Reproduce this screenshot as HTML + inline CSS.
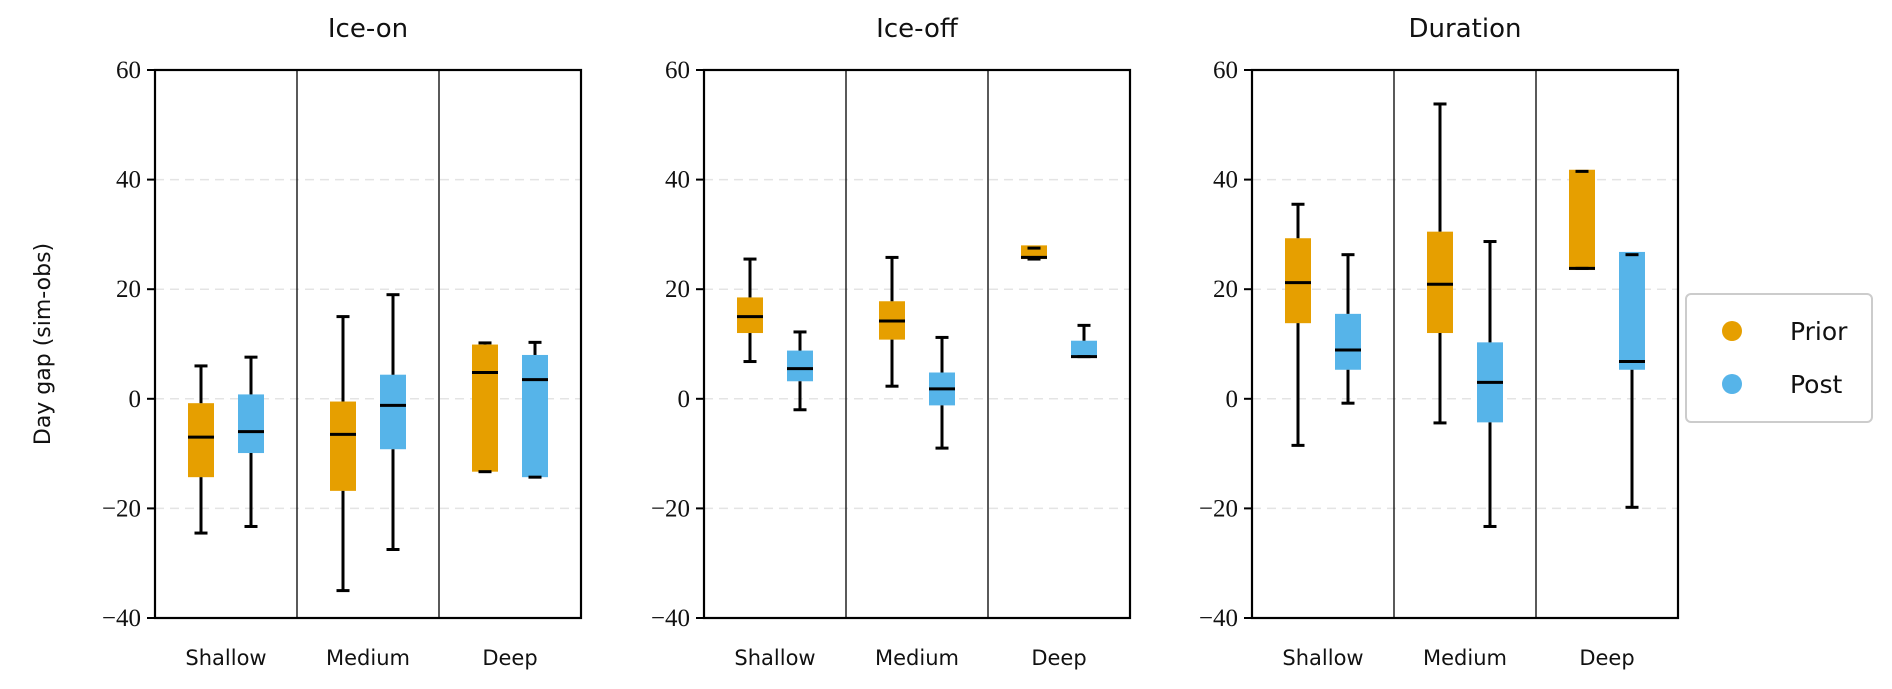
<!DOCTYPE html>
<html><head><meta charset="utf-8"><style>
body{margin:0;background:#fff;width:1892px;height:689px;overflow:hidden}
svg{display:block}
.tk{font-family:"Liberation Serif",serif;font-size:25px;fill:#111}
.xl{font-family:"DejaVu Sans","Liberation Sans",sans-serif;font-size:21px;fill:#111}
.tt{font-family:"DejaVu Sans","Liberation Sans",sans-serif;font-size:26px;fill:#111}
</style></head><body>
<svg id="s" width="1892" height="689" xmlns="http://www.w3.org/2000/svg">
<g id="plots"></g>
<text class="tt" x="368" y="37" text-anchor="middle">Ice-on</text>
<text class="tt" x="917" y="37" text-anchor="middle">Ice-off</text>
<text class="tt" x="1465" y="37" text-anchor="middle">Duration</text>
<text class="xl" x="0" y="0" transform="translate(50,344) rotate(-90)" text-anchor="middle" style="font-size:22px">Day gap (sim-obs)</text>
<g class="tk" text-anchor="end" id="ticks"></g>
<g class="xl" text-anchor="middle">
<text x="226" y="665">Shallow</text><text x="368" y="665">Medium</text><text x="510" y="665">Deep</text>
<text x="775" y="665">Shallow</text><text x="917" y="665">Medium</text><text x="1059" y="665">Deep</text>
<text x="1323" y="665">Shallow</text><text x="1465" y="665">Medium</text><text x="1607" y="665">Deep</text>
</g>
<rect x="1686" y="294" width="186" height="128" rx="5" fill="#fff" stroke="#ccc" stroke-width="2"/>
<circle cx="1732" cy="331" r="10" fill="#E69F00"/>
<circle cx="1732" cy="384" r="10" fill="#56B4E9"/>
<text class="xl" x="1790" y="340" style="font-size:25px">Prior</text>
<text class="xl" x="1790" y="393" style="font-size:25px">Post</text>
</svg>
<script>
const lefts=[155,704,1252],W=426;
const T=70,B=618,Y=v=>T+(60-v)*(B-T)/100;
const data=[
[[-24.5,-14.3,-7,-0.8,6],[-23.3,-9.9,-6,0.8,7.6],[-35,-16.8,-6.5,-0.5,15],[-27.5,-9.2,-1.2,4.4,19],[-13.3,-13.3,4.8,9.9,10.2],[-14.3,-14.3,3.5,8,10.3]],
[[6.8,12,15,18.5,25.5],[-2,3.2,5.5,8.8,12.2],[2.3,10.8,14.2,17.8,25.8],[-9,-1.2,1.8,4.8,11.2],[25.5,25.5,25.8,28,27.5],[7.7,7.5,7.7,10.6,13.4]],
[[-8.5,13.8,21.2,29.3,35.5],[-0.8,5.3,8.9,15.5,26.3],[-4.4,12,20.9,30.5,53.8],[-23.3,-4.3,3,10.3,28.7],[23.8,23.5,23.8,41.8,41.5],[-19.8,5.3,6.8,26.8,26.3]]];
let h='',t='';
lefts.forEach((L,p)=>{
 [40,20,0,-20].forEach(v=>{h+=`<line x1="${L}" x2="${L+W}" y1="${Y(v)}" y2="${Y(v)}" stroke="#e4e4e4" stroke-width="1.5" stroke-dasharray="9,6"/>`});
 data[p].forEach((d,i)=>{
  const sec=Math.floor(i/2),c=L+71+142*sec+(i%2?25:-25),col=i%2?'#56B4E9':'#E69F00';
  const [lo,q1,md,q3,hi]=d;
  h+=`<rect x="${c-13}" y="${Y(q3)}" width="26" height="${Y(q1)-Y(q3)}" fill="${col}"/>`;
  h+=`<line x1="${c}" x2="${c}" y1="${Y(hi)}" y2="${Y(Math.min(q3,hi))}" stroke="#000" stroke-width="3"/>`;
  h+=`<line x1="${c}" x2="${c}" y1="${Y(Math.max(q1,lo))}" y2="${Y(lo)}" stroke="#000" stroke-width="3"/>`;
  h+=`<line x1="${c-6.5}" x2="${c+6.5}" y1="${Y(hi)}" y2="${Y(hi)}" stroke="#000" stroke-width="3"/>`;
  h+=`<line x1="${c-6.5}" x2="${c+6.5}" y1="${Y(lo)}" y2="${Y(lo)}" stroke="#000" stroke-width="3"/>`;
  h+=`<line x1="${c-13}" x2="${c+13}" y1="${Y(md)}" y2="${Y(md)}" stroke="#000" stroke-width="3"/>`;
 });
 h+=`<line x1="${L+142}" x2="${L+142}" y1="${T}" y2="${B}" stroke="#000" stroke-width="1.3"/>`;
 h+=`<line x1="${L+284}" x2="${L+284}" y1="${T}" y2="${B}" stroke="#000" stroke-width="1.3"/>`;
 h+=`<rect x="${L}" y="${T}" width="${W}" height="${B-T}" fill="none" stroke="#000" stroke-width="2.2"/>`;
 [60,40,20,0,-20,-40].forEach(v=>{h+=`<line x1="${L-8}" x2="${L}" y1="${Y(v)}" y2="${Y(v)}" stroke="#000" stroke-width="2"/>`;
  t+=`<text x="${L-14}" y="${Y(v)+8}">${v<0?'\u2212'+(-v):v}</text>`;});
});
document.getElementById('plots').innerHTML=h;
document.getElementById('ticks').innerHTML=t;
</script>
</body></html>
